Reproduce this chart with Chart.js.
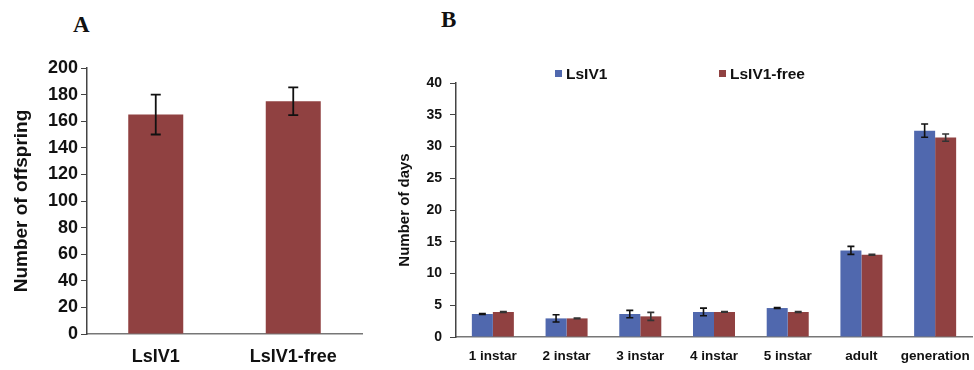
<!DOCTYPE html>
<html>
<head>
<meta charset="utf-8">
<script src="https://cdn.jsdelivr.net/npm/chart.js@4.4.0/dist/chart.umd.min.js"></script>
<style>
  body { margin: 0; background: #fff; width: 974px; height: 370px; position: relative; overflow: hidden; font-family: "Liberation Sans", Arial, sans-serif; }
  .panel-letter { position: absolute; font-family: "Liberation Serif", "Times New Roman", serif; font-weight: bold; font-size: 23px; color: #111; }
  #chartA { position: absolute; left: 0; top: 0; }
  #chartB { position: absolute; left: 380px; top: 0; }
  .legend-item { position: absolute; font-weight: bold; font-size: 15.5px; color: #111; white-space: nowrap; }
  .legend-item i { display: inline-block; width: 7px; height: 7px; margin-right: 4px; vertical-align: 2px; }
</style>
</head>
<body>
<div class="panel-letter" style="left:73px; top:12px;">A</div>
<div class="panel-letter" style="left:441px; top:7px;">B</div>
<canvas id="chartA" width="370" height="370"></canvas>
<canvas id="chartB" width="594" height="370"></canvas>
<div id="legendB"></div>

<script>
// -------------------------------
// DATA
// -------------------------------
const groupsA = ["LsIV1", "LsIV1-free"];
const offspring = [165, 175];
const offspringErr = [15, 10.5];
const ticksA = [0, 20, 40, 60, 80, 100, 120, 140, 160, 180, 200];

const stages = ["1 instar", "2 instar", "3 instar", "4 instar", "5 instar", "adult", "generation"];
const daysInfected = [3.62, 2.93, 3.62, 3.94, 4.56, 13.64, 32.5];
const errInfected = [0.08, 0.57, 0.58, 0.6, 0.07, 0.63, 1.05];
const daysFree = [3.94, 2.93, 3.25, 3.94, 3.94, 12.96, 31.4];
const errFree = [0.08, 0.05, 0.63, 0.05, 0.06, 0.06, 0.58];
const ticksB = [0, 5, 10, 15, 20, 25, 30, 35, 40];

const BLUE = "#5068ae";
const RED = "#904141";

// -------------------------------
// ERROR BAR PLUGIN
// -------------------------------
const errorBars = {
    id: "errorBars",
    afterDatasetsDraw(chart, args, opts) {
        const ctx = chart.ctx;
        const yScale = chart.scales.y;
        ctx.save();
        chart.data.datasets.forEach((ds, i) => {
            const meta = chart.getDatasetMeta(i);
            meta.data.forEach((bar, j) => {
                const v = ds.data[j], e = ds.errors[j];
                const top = yScale.getPixelForValue(v + e);
                const bot = yScale.getPixelForValue(v - e);
                ctx.strokeStyle = ds.errorColor || "#111";
                ctx.lineWidth = opts.width || 1.5;
                ctx.beginPath();
                ctx.moveTo(bar.x, top); ctx.lineTo(bar.x, bot);
                ctx.moveTo(bar.x - opts.cap, top); ctx.lineTo(bar.x + opts.cap, top);
                ctx.moveTo(bar.x - opts.cap, bot); ctx.lineTo(bar.x + opts.cap, bot);
                ctx.stroke();
            });
        });
        ctx.restore();
    }
};

const fixedTicks = (values) => (scale) => { scale.ticks = values.map(v => ({ value: v })); };
// fix the x axis height and stop label overflow from shrinking the plot
const fixHeight = (h) => (s) => { s.height = h; s.paddingLeft = 0; s.paddingRight = 0; };

// -------------------------------
// PANEL A
// -------------------------------
new Chart(document.getElementById("chartA"), {
    type: "bar",
    data: {
        labels: groupsA,
        datasets: [{ data: offspring, errors: offspringErr, backgroundColor: RED, barPercentage: 0.4, categoryPercentage: 1 }]
    },
    options: {
        responsive: false, animation: false, devicePixelRatio: 1,
        layout: { padding: { top: 68, right: 8, bottom: 0, left: 0 } },
        plugins: { legend: { display: false }, tooltip: { enabled: false }, errorBars: { cap: 5, width: 1.8 } },
        scales: {
            x: {
                grid: { display: false, drawTicks: false },
                border: { display: true, color: "#777", width: 1.5 },
                ticks: { color: "#111", padding: 12, maxRotation: 0, font: { family: "Liberation Sans", weight: "bold", size: 18 } },
                afterFit: fixHeight(36)
            },
            y: {
                min: 0, max: 200,
                afterBuildTicks: fixedTicks(ticksA),
                grid: { drawOnChartArea: false, drawTicks: true, tickLength: 6, color: "#444" },
                border: { display: true, color: "#444", width: 1.5 },
                ticks: { color: "#111", padding: 3, font: { family: "Liberation Sans", weight: "bold", size: 18 } },
                title: { display: true, text: "Number of offspring", color: "#111", padding: { top: 10, bottom: 0 }, font: { family: "Liberation Sans", weight: "bold", size: 19 } },
                afterFit: (s) => { s.width = 87; }
            }
        }
    },
    plugins: [errorBars]
});

// -------------------------------
// PANEL B
// -------------------------------
const chartB = new Chart(document.getElementById("chartB"), {
    type: "bar",
    data: {
        labels: stages,
        datasets: [
            { label: "LsIV1", data: daysInfected, errors: errInfected, backgroundColor: BLUE, errorColor: "#111", barPercentage: 1, categoryPercentage: 0.57 },
            { label: "LsIV1-free", data: daysFree, errors: errFree, backgroundColor: RED, errorColor: "#333", barPercentage: 1, categoryPercentage: 0.57 }
        ]
    },
    options: {
        responsive: false, animation: false, devicePixelRatio: 1,
        layout: { padding: { top: 83, right: 2, bottom: 0, left: 0 } },
        plugins: { legend: { display: false }, tooltip: { enabled: false }, errorBars: { cap: 3.5, width: 1.6 } },
        scales: {
            x: {
                grid: { display: false, drawTicks: false },
                border: { display: true, color: "#777", width: 1.5 },
                ticks: { color: "#111", padding: 11, maxRotation: 0, minRotation: 0, autoSkip: false, font: { family: "Liberation Sans", weight: "bold", size: 13.5 } },
                afterFit: fixHeight(33)
            },
            y: {
                min: 0, max: 40,
                afterBuildTicks: fixedTicks(ticksB),
                grid: { drawOnChartArea: false, drawTicks: true, tickLength: 6, color: "#444" },
                border: { display: true, color: "#444", width: 1.5 },
                ticks: { color: "#111", padding: 8, font: { family: "Liberation Sans", weight: "bold", size: 14 } },
                title: { display: true, text: "Number of days", color: "#111", padding: { top: 16, bottom: 0 }, font: { family: "Liberation Sans", weight: "bold", size: 15 } },
                afterFit: (s) => { s.width = 76; }
            }
        }
    },
    plugins: [errorBars]
});

// -------------------------------
// LEGEND (HTML, from the datasets)
// -------------------------------
const legendEl = document.getElementById("legendB");
const legendX = [555, 719];
chartB.data.datasets.forEach((ds, i) => {
    const item = document.createElement("div");
    item.className = "legend-item";
    item.style.left = legendX[i] + "px";
    item.style.top = "65px";
    item.innerHTML = `<i style="background:${ds.backgroundColor}"></i>${ds.label}`;
    legendEl.appendChild(item);
});
</script>
</body>
</html>
